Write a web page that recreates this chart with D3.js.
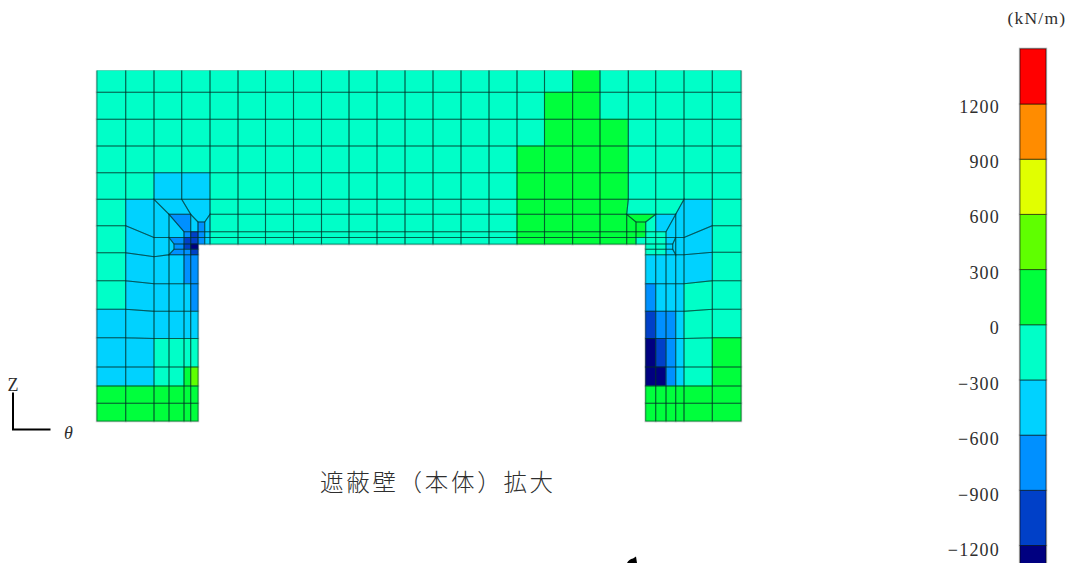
<!DOCTYPE html>
<html lang="ja">
<head>
<meta charset="utf-8">
<title>遮蔽壁（本体）拡大</title>
<script src="https://cdnjs.cloudflare.com/ajax/libs/d3/7.8.5/d3.min.js"></script>
<style>
html,body{margin:0;padding:0;background:#fff;overflow:hidden}
svg{display:block}
text{font-family:"Liberation Serif","DejaVu Serif",serif;fill:#2e2e2e}
</style>
</head>
<body>
<div id="chart"></div>
<script>
// ---- legend -----------------------------------------------------------
const bandColors = ["#000080","#0040C8","#0090FF","#00D2FF","#00FFC8","#00FF3C","#5FFF00","#E1FF00","#FF8C00","#FF0000"];
const bandEdges  = [-1500,-1200,-900,-600,-300,0,300,600,900,1200,1500];
const legendTicks = [1200,900,600,300,0,-300,-600,-900,-1200];
const unitLabel = "(kN/m)";
const titleText = "遮蔽壁（本体）拡大";

// ---- mesh stations (theta, z) and per-cell colour band index ------------
const gridTheta = [0,28.7,57,84.7,113,141,168.5,196.5,224.5,252,280,308,336,364,392,420,447.5,475.6,503,531.3,558.7,587,615.3,644];
const upperZ = [351,328.7,301.7,275,248.3,221.7];
const upperBands = [
  "44444444444444444544444",
  "44444444444444445544444",
  "44444444444444445554444",
  "44444444444444455554444",
  "44334444444444455554444"
];
const midZ = [221.7,206.7,189.3,183.5,177];
const midBands = "444444444445555";

// vertical strips: theta0, theta1, left-edge z list, right-edge z list, bands
const outerLeftZ = [221.7,195.3,168.3,140.3,111.7,83.3,54,35,17.7,0];
const shoulderLeftZ = [221.7,183.5,164.3,137.3,109.7,82.5,54,35,17.7,0];
const innerCol1RightZ = [206.7,183.5,166.3,137.3,109.7,82.5,54,35,17.7,0];
const legZ = [166.3,137.3,109.7,82.5,54,35,17.7,0];
const outerRightZ = [221.7,195.3,168.7,140.3,111.7,83.3,54,35,17.7,0];
const shoulderRightZ = [221.7,183.5,166.3,137.3,109.7,82.5,54,35,17.7,0];
const strips = [
  [0,28.7,outerLeftZ,outerLeftZ,[4,4,4,4,3,3,3,5,5]],
  [28.7,57,outerLeftZ,shoulderLeftZ,[3,3,3,3,3,3,3,5,5]],
  [57,72,shoulderLeftZ,innerCol1RightZ,[3,3,3,3,3,4,4,5,5]],
  [72,87,legZ,legZ,[3,3,3,4,4,5,5]],
  [87,93.7,legZ,legZ,[2,3,3,4,5,5,5]],
  [93.7,101,legZ,legZ,[2,2,3,4,6,5,5]],
  [548.7,558.7,legZ,legZ,[3,2,1,0,0,5,5]],
  [558.7,569,legZ,legZ,[3,3,2,1,0,5,5]],
  [569,578.7,legZ,legZ,[3,3,2,2,2,5,5]],
  [578.7,587,legZ,legZ,[3,3,3,3,3,5,5]],
  [587,615.3,shoulderRightZ,outerRightZ,[3,3,3,4,4,4,4,5,5]],
  [615.3,644,outerRightZ,outerRightZ,[4,4,4,4,4,5,5,5,5]]
];

// irregular corner elements: band, then theta,z node pairs
const cornerCells = [
  // left corner
  [3,[57,221.7,84.7,221.7,93.7,206.7,72,206.7]],
  [3,[84.7,221.7,113,221.7,113,206.7,107.7,199,101,199,93.7,206.7]],
  [3,[72,206.7,87,189.3,87,183.5,72,183.5]],
  [2,[72,206.7,93.7,206.7,93.7,189.3,87,189.3]],
  [3,[93.7,206.7,101,199,101,189.3,93.7,189.3]],
  [2,[101,199,107.7,199,107.7,189.3,101,189.3]],
  [2,[101,189.3,107.7,189.3,107.7,183.5,101,183.5]],
  [2,[101,183.5,107.7,183.5,107.7,177,101,177]],
  [2,[87,189.3,93.7,189.3,93.7,183.5,87,183.5]],
  [1,[93.7,189.3,101,189.3,101,183.5,93.7,183.5]],
  [1,[87,183.5,93.7,183.5,93.7,177,87,177]],
  [1,[93.7,183.5,101,183.5,101,177,93.7,177]],
  [2,[72,183.5,87,183.5,87,177,77,177]],
  [2,[77,177,87,177,87,171.7,77,171.7]],
  [1,[87,177,93.7,177,93.7,171.7,87,171.7]],
  [0,[93.7,177,101,177,101,171.7,93.7,171.7]],
  [2,[77,171.7,87,171.7,87,166.3,72,166.3]],
  [2,[87,171.7,93.7,171.7,93.7,166.3,87,166.3]],
  [1,[93.7,171.7,101,171.7,101,166.3,93.7,166.3]],
  [3,[72,183.5,77,177,77,171.7,72,166.3]],
  [3,[107.7,199,113,206.7,113,189.3,107.7,189.3]],
  [3,[107.7,189.3,113,189.3,113,183.5,107.7,183.5]],
  [3,[107.7,183.5,113,183.5,113,177,107.7,177]],
  // right corner
  [5,[503,221.7,531.3,221.7,529.7,206.7,503,206.7]],
  [5,[503,206.7,529.7,206.7,529.7,189.3,503,189.3]],
  [5,[503,189.3,529.7,189.3,529.7,183.5,503,183.5]],
  [5,[503,183.5,529.7,183.5,529.7,177,503,177]],
  [4,[531.3,221.7,558.7,221.7,558.7,206.7,529.7,206.7]],
  [4,[558.7,221.7,587,221.7,578.7,206.7,558.7,206.7]],
  [5,[529.7,206.7,558.7,206.7,548.7,199,539,199]],
  [5,[529.7,206.7,539,199,539,189.3,529.7,189.3]],
  [5,[529.7,189.3,539,189.3,539,183.5,529.7,183.5]],
  [5,[529.7,183.5,539,183.5,539,177,529.7,177]],
  [5,[539,199,548.7,199,548.7,189.3,539,189.3]],
  [5,[539,189.3,548.7,189.3,548.7,183.5,539,183.5]],
  [4,[539,183.5,548.7,183.5,548.7,177,539,177]],
  [4,[548.7,199,558.7,206.7,558.7,189.3,548.7,189.3]],
  [4,[548.7,189.3,558.7,189.3,558.7,183.5,548.7,183.5]],
  [4,[548.7,183.5,558.7,183.5,558.7,177,548.7,177]],
  [3,[558.7,206.7,578.7,206.7,569,189.3,558.7,189.3]],
  [3,[578.7,206.7,587,221.7,587,183.5,578.7,183.5]],
  [3,[569,189.3,578.7,206.7,578.7,183.5,569,183.5]],
  [4,[558.7,189.3,569,189.3,569,183.5,558.7,183.5]],
  [4,[558.7,183.5,569,183.5,569,177,558.7,177]],
  [3,[569,183.5,578.7,183.5,575.7,177,569,177]],
  [4,[548.7,177,558.7,177,558.7,171.7,548.7,171.7]],
  [4,[558.7,177,569,177,569,171.7,558.7,171.7]],
  [3,[569,177,575.7,177,575.7,171.7,569,171.7]],
  [4,[548.7,171.7,558.7,171.7,558.7,166.3,548.7,166.3]],
  [4,[558.7,171.7,569,171.7,569,166.3,558.7,166.3]],
  [3,[569,171.7,575.7,171.7,578.7,166.3,569,166.3]],
  [3,[578.7,183.5,575.7,177,575.7,171.7,578.7,166.3]],
  [3,[578.7,183.5,587,183.5,587,166.3,578.7,166.3]]
];

// ---- build ---------------------------------------------------------------
const W = 1072, H = 563;
const svg = d3.select("#chart").append("svg").attr("width",W).attr("height",H).attr("viewBox",[0,0,W,H]);

const x = d3.scaleLinear().domain([0,644]).range([97,741]);
const y = d3.scaleLinear().domain([0,351]).range([421,70]);
const legendY = d3.scaleLinear().domain([-1200,1200]).range([545.5,104]);
const legendLabelY = d3.scaleLinear().domain([-1200,1200]).range([556,112.5]);

const rectCell = (t0,t1,z0,z1,b) => ({band:b,pts:[[t0,z0],[t1,z0],[t1,z1],[t0,z1]]});
const cells = [];
upperBands.forEach((row,j) => {
  Array.from(row).forEach((c,i) => cells.push(rectCell(gridTheta[i],gridTheta[i+1],upperZ[j],upperZ[j+1],+c)));
});
Array.from(midBands).forEach((c,k) => {
  const i = k + 4;
  if (gridTheta[i+1] > 503) return; // last column is in cornerCells
  d3.range(midZ.length-1).forEach(j => cells.push(rectCell(gridTheta[i],gridTheta[i+1],midZ[j],midZ[j+1],+c)));
});
strips.forEach(([t0,t1,zl,zr,bands]) => {
  bands.forEach((b,j) => cells.push({band:b,pts:[[t0,zl[j]],[t1,zr[j]],[t1,zr[j+1]],[t0,zl[j+1]]]}));
});
cornerCells.forEach(([b,flat]) => cells.push({band:b,pts:d3.range(0,flat.length,2).map(i=>[flat[i],flat[i+1]])}));

const line = d3.line().x(d=>x(d[0])).y(d=>y(d[1])).curve(d3.curveLinearClosed);

svg.append("clipPath").attr("id","meshClip").append("rect")
  .attr("x",90).attr("y",y(351)+.6).attr("width",660).attr("height",360);

const mesh = svg.append("g").attr("clip-path","url(#meshClip)");
// pale halo of the plotted outline
mesh.append("g").selectAll("path").data(cells).join("path")
  .attr("d",d=>line(d.pts)).attr("fill","none").attr("stroke","#c4c4c4").attr("stroke-width",2.4);
mesh.append("g").selectAll("path").data(cells).join("path")
  .attr("d",d=>line(d.pts)).attr("fill",d=>bandColors[d.band]).attr("stroke",d=>bandColors[d.band]).attr("stroke-width",.6);
mesh.append("g").selectAll("path").data(cells).join("path")
  .attr("d",d=>line(d.pts)).attr("fill","none").attr("stroke","#003028").attr("stroke-opacity",.5).attr("stroke-width",1.1);

// legend
const legend = svg.append("g");
const bands = d3.pairs(bandEdges).map(([a,b],i)=>({a,b,i}));
legend.selectAll("rect.halo").data(bands).join("rect").attr("class","halo")
  .attr("x",1019.5).attr("width",27).attr("y",d=>legendY(d.b)-.5).attr("height",d=>legendY(d.a)-legendY(d.b)+1)
  .attr("fill","none").attr("stroke","#c4c4c4").attr("stroke-width",1.4);
legend.selectAll("rect.band").data(bands).join("rect").attr("class","band")
  .attr("x",1020).attr("width",26).attr("y",d=>legendY(d.b)).attr("height",d=>legendY(d.a)-legendY(d.b))
  .attr("fill",d=>bandColors[d.i]).attr("stroke","#000").attr("stroke-opacity",.55).attr("stroke-width",1);
legend.selectAll("text").data(legendTicks).join("text")
  .attr("x",1000).attr("y",d=>legendLabelY(d)).attr("text-anchor","end")
  .attr("font-size",18).attr("letter-spacing",1.2)
  .text(d=>String(d).replace("-","−"));
svg.append("text").attr("x",1007.5).attr("y",24).attr("font-size",17.5).attr("letter-spacing",1.2).text(unitLabel);

// coordinate marker
svg.append("path").attr("d","M13 392.5V429.5H50.5").attr("fill","none").attr("stroke","#000").attr("stroke-width",2);
svg.append("text").attr("x",7.5).attr("y",390.5).attr("font-size",18).text("Z");
svg.append("text").attr("x",64).attr("y",439).attr("font-size",18).attr("font-style","italic").text("θ");

// caption
svg.append("text").attr("x",320).attr("y",491).attr("font-size",23.5).attr("letter-spacing",2.7)
  .attr("font-weight",300)
  .style("font-family","'Noto Sans CJK JP','Noto Sans CJK SC',sans-serif").text(titleText);

// small stray mark at the bottom edge of the sheet
svg.append("path").attr("d","M627 563Q629 559 633 558.5L636 556.5L637 563Z").attr("fill","#000");
</script>
</body>
</html>
